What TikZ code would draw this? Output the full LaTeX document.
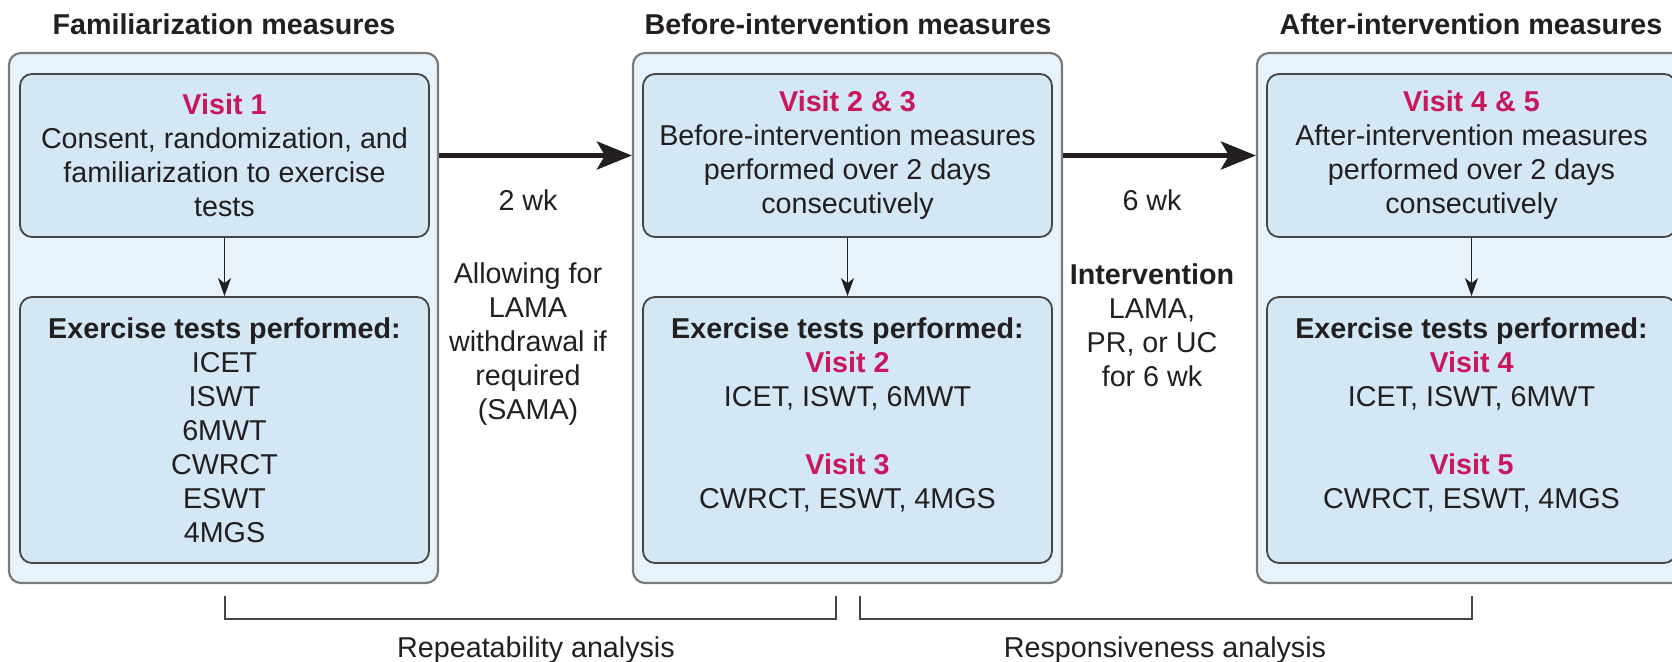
\documentclass[tikz,border=0pt]{standalone}
\usepackage{fontspec}
\setmainfont{Liberation Sans}
\usetikzlibrary{arrows.meta,calc}
\definecolor{outerfill}{HTML}{E7F2FA}
\definecolor{innerfill}{HTML}{D3E7F5}
\definecolor{panelline}{HTML}{7A7A7A}
\definecolor{boxline}{HTML}{454545}
\definecolor{visitcol}{HTML}{C8175D}
\definecolor{txt}{HTML}{231F20}
\newcommand\visitlbl[1]{{\color{visitcol}\bfseries #1}}
\begin{document}
\begin{tikzpicture}[x=1pt,y=-1pt,
  every node/.style={font=\fontsize{28.7}{34}\selectfont, text=txt},
  panel/.style={draw=panelline, line width=2.2pt, fill=outerfill, rounded corners=12pt,
    minimum width=429pt, minimum height=530pt, inner sep=0pt},
  box/.style={draw=boxline, line width=1.8pt, fill=innerfill, rounded corners=12pt,
    minimum width=409pt, inner sep=0pt, align=center},
  topbox/.style={box, minimum height=163pt},
  botbox/.style={box, minimum height=266pt},
  title/.style={font=\fontsize{28.7}{34}\selectfont\bfseries, anchor=base},
  sidelabel/.style={align=center, inner sep=0pt},
  bigarrow/.style={draw=txt, line width=4.5pt, -{Stealth[length=35pt,width=28pt,inset=8pt]}},
  smallarrow/.style={draw=txt, line width=1.5pt, -{Stealth[length=18pt,width=13pt,inset=5pt]}},
  bracket/.style={line width=2pt, draw=boxline},
]
\useasboundingbox (0,0) rectangle (1672,661);
\clip (0,0) rectangle (1672,661);

% titles
\node[title] (t1) at (224,35) {Familiarization measures};
\node[title] (t2) at (848,35) {Before-intervention measures};
\node[title] (t3) at (1471,35) {After-intervention measures};

% panels
\node[panel] (p1) at (223.5,318) {};
\node[panel] (p2) at (847.5,318) {};
\node[panel] (p3) at (1471.5,318) {};

% inner boxes
\node[topbox] (v1) at (224.5,155.5) {\visitlbl{Visit 1}\\Consent, randomization, and\\familiarization to exercise\\tests};
\node[botbox] (e1) at (224.5,430) {\textbf{Exercise tests performed:}\\ICET\\ISWT\\6MWT\\CWRCT\\ESWT\\4MGS};

\node[topbox] (v2) at (847.5,155.5) {\visitlbl{Visit 2 \& 3}\\Before-intervention measures\\performed over 2 days\\consecutively};
\node[botbox] (e2) at (847.5,430) {\textbf{Exercise tests performed:}\\\visitlbl{Visit 2}\\ICET, ISWT, 6MWT\\\mbox{}\\\visitlbl{Visit 3}\\CWRCT, ESWT, 4MGS\\\mbox{}};

\node[topbox] (v3) at (1471.5,155.5) {\visitlbl{Visit 4 \& 5}\\After-intervention measures\\performed over 2 days\\consecutively};
\node[botbox] (e3) at (1471.5,430) {\textbf{Exercise tests performed:}\\\visitlbl{Visit 4}\\ICET, ISWT, 6MWT\\\mbox{}\\\visitlbl{Visit 5}\\CWRCT, ESWT, 4MGS\\\mbox{}};

% inner arrows
\draw[smallarrow] (v1) -- (e1);
\draw[smallarrow] (v2) -- (e2);
\draw[smallarrow] (v3) -- (e3);

% big arrows
\draw[bigarrow] (p1.east |- v1) -- (p2.west |- v1);
\draw[bigarrow] (p2.east |- v2) -- (p3.west |- v2);

% side labels
\node[anchor=base] (w2) at (528,210) {2 wk};
\node[sidelabel] (allow) at (528,344) {Allowing for\\LAMA\\withdrawal if\\required\\(SAMA)};
\node[anchor=base] (w6) at (1152,210) {6 wk};
\node[sidelabel] (interv) at (1152,325) {\textbf{Intervention}\\LAMA,\\PR, or UC\\for 6 wk};

% brackets
\coordinate (ba) at ($(e1.south |- p1.south)+(0,12)$);
\coordinate (bb) at ($(p2.south)+(-12,12)$);
\coordinate (bc) at ($(p2.south)+(12,12)$);
\coordinate (bd) at ($(e3.south |- p3.south)+(0,12)$);
\draw[bracket] (ba) -- ++(0,23) -| (bb);
\draw[bracket] (bc) -- ++(0,23) -| (bd);
\node[anchor=base] (rep) at (536,657) {Repeatability analysis};
\node[anchor=base] (resp) at (1165,657) {Responsiveness analysis};
\end{tikzpicture}
\end{document}
